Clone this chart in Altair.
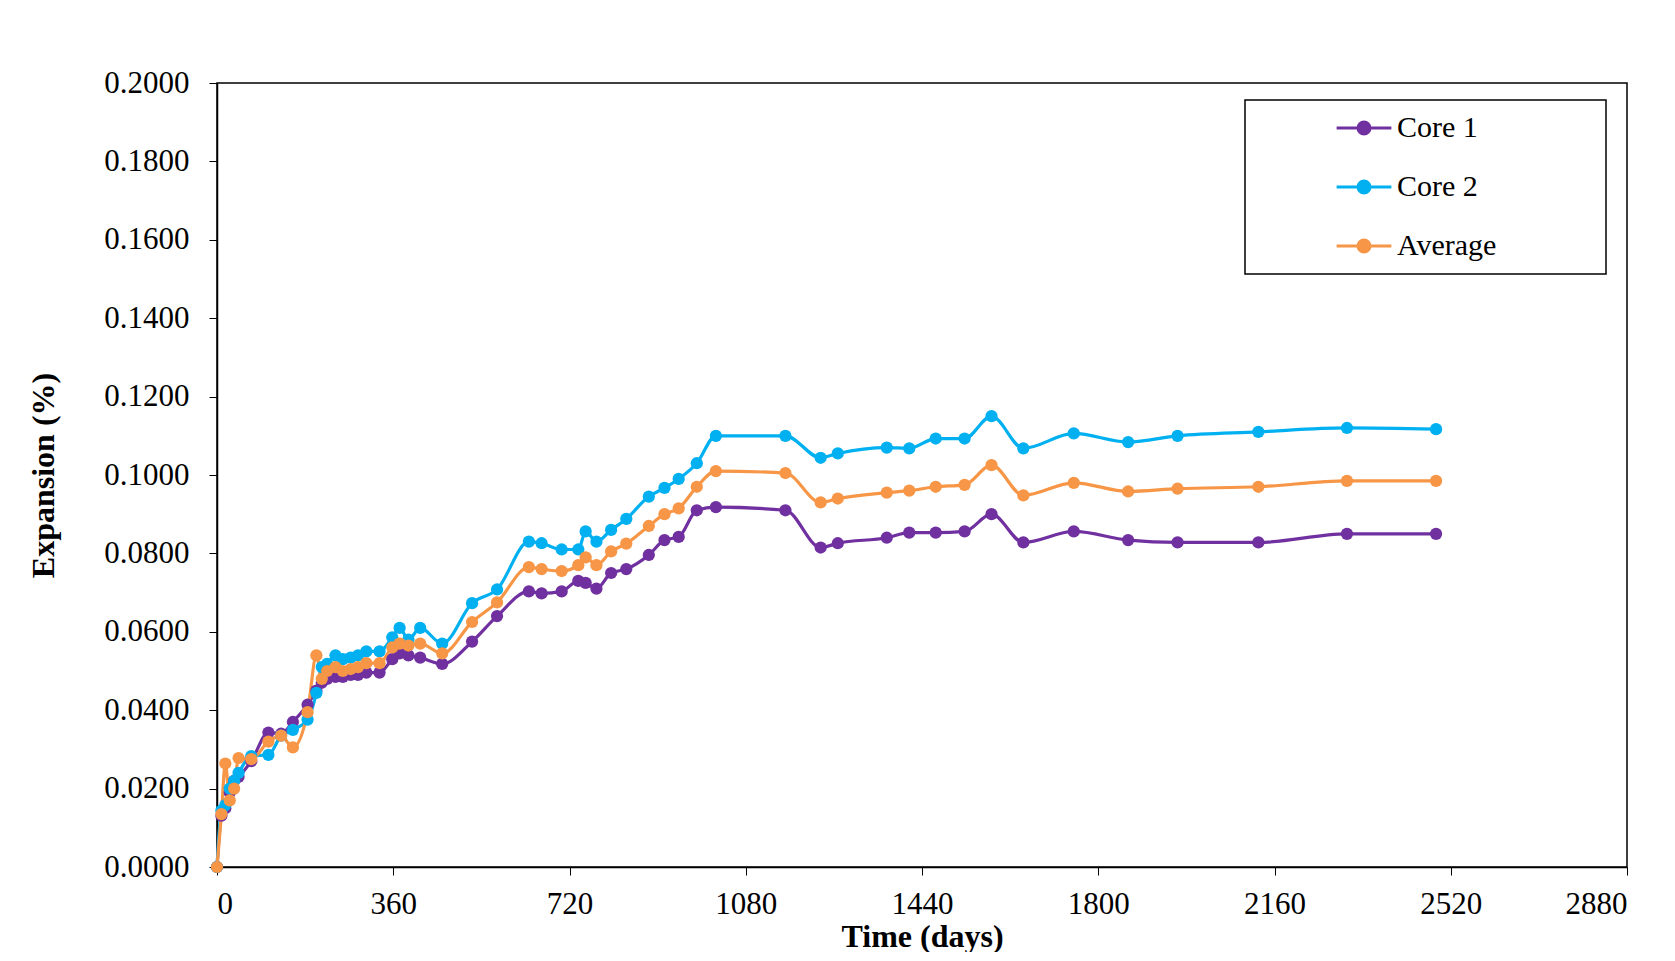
import altair as alt
import pandas as pd

days = [0, 9, 17, 26, 35, 44, 70, 105, 131, 155, 185, 203, 214, 225, 242, 257, 273, 288,
        305, 332, 358, 373, 391, 415, 460, 521, 572, 637, 663, 704, 738, 753, 775, 805,
        836, 882, 914, 943, 980, 1019, 1161, 1233, 1268, 1368, 1414, 1468, 1527, 1582,
        1647, 1750, 1861, 1962, 2127, 2308, 2490]
core1 = [0, 0.0131, 0.0150, 0.0190, 0.0220, 0.0230, 0.0270, 0.0343, 0.0340, 0.0370, 0.0414,
         0.0450, 0.0470, 0.0480, 0.0485, 0.0485, 0.0490, 0.0490, 0.0496, 0.0496, 0.0530,
         0.0545, 0.0540, 0.0534, 0.0518, 0.0575, 0.0640, 0.0703, 0.0698, 0.0703, 0.0730,
         0.0725, 0.0710, 0.0750, 0.0760, 0.0796, 0.0834, 0.0842, 0.0910, 0.0918, 0.0910,
         0.0815, 0.0826, 0.0840, 0.0853, 0.0853, 0.0856, 0.0900, 0.0828, 0.0856, 0.0834,
         0.0828, 0.0828, 0.0850, 0.0850]
core2 = [0, 0.0144, 0.0158, 0.0200, 0.0220, 0.0240, 0.0283, 0.0286, 0.0335, 0.0350, 0.0376,
         0.0444, 0.0510, 0.0518, 0.0540, 0.0530, 0.0534, 0.0540, 0.0550, 0.0550, 0.0586,
         0.0610, 0.0580, 0.0610, 0.0570, 0.0673, 0.0708, 0.0830, 0.0826, 0.0810, 0.0810,
         0.0856, 0.0830, 0.0860, 0.0888, 0.0945, 0.0967, 0.0990, 0.1030, 0.1100, 0.1100,
         0.1044, 0.1055, 0.1070, 0.1068, 0.1093, 0.1093, 0.1150, 0.1068, 0.1106, 0.1084,
         0.1100, 0.1110, 0.1120, 0.1117]
average = [0, 0.0135, 0.0264, 0.0170, 0.0200, 0.0278, 0.0275, 0.0320, 0.0335, 0.0305, 0.0395,
           0.0540, 0.0480, 0.0500, 0.0510, 0.0500, 0.0505, 0.0510, 0.0520, 0.0520, 0.0560,
           0.0570, 0.0565, 0.0570, 0.0545, 0.0625, 0.0675, 0.0765, 0.0760, 0.0755, 0.0770,
           0.0790, 0.0770, 0.0805, 0.0825, 0.0870, 0.0900, 0.0915, 0.0970, 0.1010, 0.1005,
           0.0930, 0.0940, 0.0955, 0.0960, 0.0970, 0.0975, 0.1025, 0.0948, 0.0980, 0.0958,
           0.0965, 0.0970, 0.0985, 0.0985]

series = ["Core 1", "Core 2", "Average"]
colors = ["#7030A0", "#00B0F0", "#F79646"]

rows = []
for name, vals in zip(series, [core1, core2, average]):
    for d, v in zip(days, vals):
        rows.append({"day": d, "value": v, "series": name})
df = pd.DataFrame(rows)

font = "Liberation Serif"
# line with a dot in the middle, like the spreadsheet legend
symbol = "M -1 0 L 1 0 M 0.22 0 A 0.22 0.22 0 1 1 -0.22 0 A 0.22 0.22 0 1 1 0.22 0 Z"

lines = (
    alt.Chart(df)
    .mark_line(interpolate="monotone", strokeWidth=3.2,
               point=alt.OverlayMarkDef(filled=True, size=150, opacity=1))
    .encode(
        x=alt.X("day:Q").scale(domain=[0, 2880], nice=False).axis(
            values=list(range(0, 2881, 360)), format="d", title="Time (days)", grid=False,
            labelPadding=14, titlePadding=2),
        y=alt.Y("value:Q").scale(domain=[0, 0.2], nice=False).axis(
            values=[i * 0.02 for i in range(11)], format=".4f",
            title="Expansion (%)", grid=False, labelPadding=20, titlePadding=43),
        color=alt.Color("series:N").scale(domain=series, range=colors).legend(
            title=None, orient="none", legendX=1022, legendY=8,
            padding=8, labelFontSize=30,
            symbolSize=3000, symbolStrokeWidth=3, rowPadding=15, labelFont=font,
            symbolType=symbol, labelLimit=600, labelOffset=4, symbolOffset=88),
    )
)

# frame drawn round the legend
legend_box = alt.Chart(df.head(1)).mark_rect(
    fill="white", stroke="black", strokeWidth=1.5
).encode(x=alt.value(1028), x2=alt.value(1389), y=alt.value(17), y2=alt.value(191))

chart = (
    (legend_box + lines)
    .properties(width=1410, height=784, padding={"top": 59, "left": 19, "right": 10, "bottom": 0})
    .configure_view(stroke="black", strokeWidth=1.5)
    .configure_axis(labelFont=font, titleFont=font, labelFontSize=31, titleFontSize=32,
                    labelColor="black", titleColor="black", domainColor="black",
                    tickColor="black", domainWidth=1.5, tickSize=8)
)

chart.save("out.html", embed_options={"renderer": "svg", "actions": False})
